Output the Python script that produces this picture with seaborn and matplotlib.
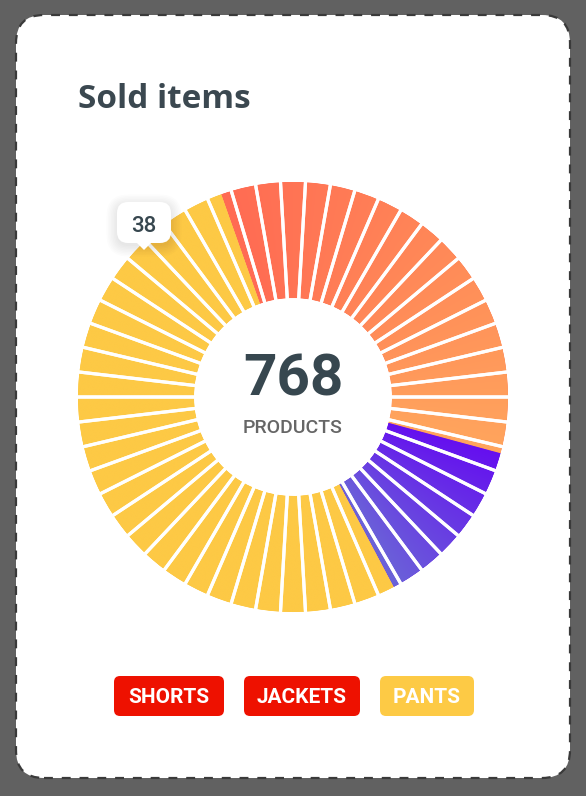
import numpy as np
import matplotlib.pyplot as plt
import seaborn as sns
from matplotlib.patches import FancyBboxPatch, Polygon

W, H = 586, 796

# data
categories = ["SHORTS", "JACKETS", "PANTS"]
sold = [266, 100, 402]
total_label = "768"
center_label = "PRODUCTS"
ring_colors = [("#ff6b53", "#ffa55d"), ("#6510ef", "#6b63d8"), ("#fdc945", "#fdc945")]
badge_colors = ["#ee1100", "#ee1100", "#fdca45"]
n_ticks = 54
tooltip_value = "38"

sns.set_theme(style="white")
plt.rcParams['font.family'] = ['Roboto', 'DejaVu Sans']

fig = plt.figure(figsize=(W / 100, H / 100), dpi=100, facecolor="#616161")
ax = fig.add_axes([0, 0, 1, 1])
ax.set_facecolor("#616161")

# card
card = FancyBboxPatch((16, H - 778), 554, 763, boxstyle="round,pad=0,rounding_size=28",
                      facecolor="white", edgecolor="#3a3a3a", linewidth=1.6,
                      linestyle=(0, (4, 4)), zorder=0)
ax.add_patch(card)

ax.text(78, H - 108, "Sold items", fontsize=24, fontweight="bold", color="#3b4850",
        family=["Open Sans", "DejaVu Sans"], ha="left", va="baseline")

# ring
cx, cy = 293, H - 397
r_out, r_in = 215, 99
wedges, _ = ax.pie(sold, startangle=109.5, counterclock=False, radius=r_out, center=(cx, cy),
                   wedgeprops=dict(width=r_out - r_in, linewidth=0))

gx = np.linspace(cx - r_out, cx + r_out, 700)
gy = np.linspace(cy - r_out, cy + r_out, 700)
X, Y = np.meshgrid(gx, gy)
ang = np.degrees(np.arctan2(Y - cy, X - cx))
for w, (c0, c1) in zip(wedges, ring_colors):
    cmap = sns.blend_palette([c0, c1], as_cmap=True)
    a = w.theta1 + (ang - w.theta1) % 360
    t = np.clip((w.theta2 - a) / (w.theta2 - w.theta1), 0, 1)
    w.set_facecolor(c0)
    im = ax.imshow(cmap(t), extent=(cx - r_out, cx + r_out, cy - r_out, cy + r_out),
                   origin="lower", interpolation="bilinear", zorder=2)
    im.set_clip_path(w)

# white separators
ax.pie(np.ones(n_ticks), startangle=90 + 180 / n_ticks, counterclock=False,
       radius=r_out + 2, center=(cx, cy),
       wedgeprops=dict(width=r_out - r_in + 4, facecolor="none", edgecolor="white",
                       linewidth=2.3, zorder=3))

ax.text(cx, H - 395, total_label, ha="center", va="baseline", fontsize=42,
        fontweight="bold", color="#37474f", zorder=5)
ax.text(cx, H - 433, center_label, ha="center", va="baseline", fontsize=14,
        fontweight="medium", color="#666666", zorder=5)

# tooltip
bx, by, bw, bh = 117, H - 243, 54, 41
for i in range(8):
    ax.add_patch(FancyBboxPatch((bx - i * 1.5, by - 3 - i * 1.5), bw + i * 3, bh + i * 3,
                                boxstyle="round,pad=0,rounding_size=%g" % (11 + i * 1.5),
                                facecolor="black", edgecolor="none", alpha=0.012, zorder=6))
ax.add_patch(FancyBboxPatch((bx, by), bw, bh, boxstyle="round,pad=0,rounding_size=11",
                            facecolor="white", edgecolor="none", zorder=7))
ax.add_patch(Polygon([(bx + bw / 2 - 8, by + 1), (bx + bw / 2 + 8, by + 1), (bx + bw / 2, by - 7)],
                     closed=True, facecolor="white", edgecolor="none", zorder=7))
ax.text(bx + bw / 2, H - 232, tooltip_value, ha="center", va="baseline", fontsize=16,
        fontweight="medium", color="#37474f", zorder=8)

# legend badges
badge_x = [114, 244, 380]
badge_w = [110, 116, 94]
for name, col, x0, bwid in zip(categories, badge_colors, badge_x, badge_w):
    ax.add_patch(FancyBboxPatch((x0, H - 716), bwid, 40, boxstyle="round,pad=0,rounding_size=6",
                                facecolor=col, edgecolor="none", zorder=4))
    ax.text(x0 + bwid / 2, H - 703, name, ha="center", va="baseline", fontsize=15,
            fontweight="bold", color="white", zorder=5)

ax.set_xlim(0, W)
ax.set_ylim(0, H)
ax.set_aspect("auto")
ax.axis("off")

fig.savefig("out.png", dpi=100, facecolor=fig.get_facecolor())
